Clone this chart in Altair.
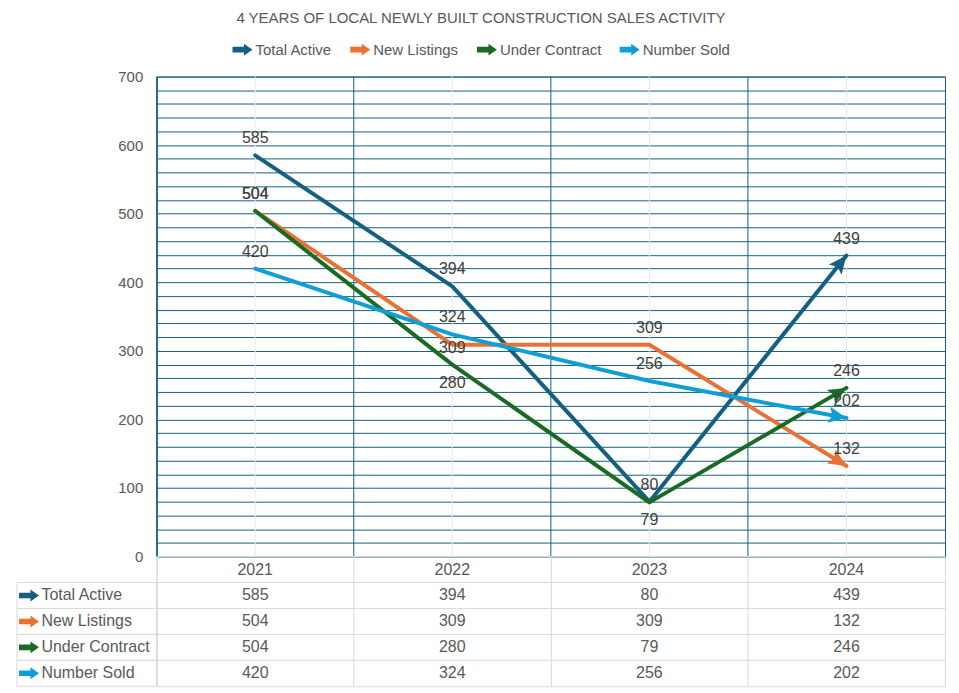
import math
import altair as alt
import pandas as pd

# ---------------- data ----------------
years = ["2021", "2022", "2023", "2024"]
series = ["Total Active", "New Listings", "Under Contract", "Number Sold"]
total_active = [585, 394, 80, 439]
new_listings = [504, 309, 309, 132]
under_contract = [504, 280, 79, 246]
number_sold = [420, 324, 256, 202]
colors = ["#156082", "#E97132", "#196B24", "#0F9ED5"]
# where each data label sits relative to its point
label_side = {
    "Total Active": ["above", "above", "above", "above"],
    "New Listings": ["above", "center", "above", "above"],
    "Under Contract": ["above", "below", "below", "above"],
    "Number Sold": ["above", "above", "above", "above"],
}
title_text = "4 YEARS OF LOCAL NEWLY BUILT CONSTRUCTION SALES ACTIVITY"

W, H = 790, 481
YMAX = 700
FONT = "Liberation Sans"
GRID_BLUE = "#156082"
TABLE_GRAY = "#d9d9d9"
TEXT_GRAY = "#595959"

values_by_series = {
    "Total Active": total_active,
    "New Listings": new_listings,
    "Under Contract": under_contract,
    "Number Sold": number_sold,
}

rows = []
for s in series:
    for i, y in enumerate(years):
        rows.append({"Series": s, "Year": y, "Value": values_by_series[s][i],
                     "Side": label_side[s][i]})
df = pd.DataFrame(rows)

# arrow head direction (last segment, in screen space)
ends = []
for s in series:
    v = values_by_series[s]
    dx = W / len(years)
    dy = -(v[-1] - v[-2]) * H / YMAX
    ang = math.degrees(math.atan2(dy, dx)) % 360
    ends.append({"Series": s, "Year": years[-1], "Value": v[-1], "angle": ang})
ends_df = pd.DataFrame(ends)

HEAD = "M0,0L-1,-0.45L-0.8,0L-1,0.45Z"
ARROW = "M-1,-0.28L0.15,-0.28L0.15,-0.6L1,0L0.15,0.6L0.15,0.28L-1,0.28Z"

color_scale = alt.Scale(domain=series, range=colors)
legend = alt.Legend(title=None, symbolType=ARROW, symbolSize=400,
                    symbolStrokeWidth=0, orient="none", direction="horizontal",
                    legendX=76, legendY=-37)
color_enc = alt.Color("Series:N", scale=color_scale, sort=series, legend=legend)
x_scale = alt.Scale(type="band", domain=years, paddingInner=0, paddingOuter=0)

x_top = alt.X("Year:N", scale=x_scale, axis=None)
y_top = alt.Y("Value:Q", scale=alt.Scale(domain=[0, YMAX], nice=False),
              axis=alt.Axis(values=list(range(0, YMAX + 1, 20)), tickCount=100,
                            labelExpr="datum.value % 100 == 0 ? datum.label : ''",
                            ticks=False, domainColor=GRID_BLUE, gridColor=GRID_BLUE,
                            gridWidth=1, labelFontSize=15, labelFont=FONT,
                            labelColor=TEXT_GRAY, labelPadding=14, title=None))

base = alt.Chart(df).encode(x=x_top, y=y_top)

year_df = pd.DataFrame({"Year": years})
centers = alt.Chart(year_df).mark_rule(color="#ebebeb", strokeWidth=1).encode(
    x=alt.X("Year:N", scale=x_scale, bandPosition=0.5, axis=None))
bounds = alt.Chart(year_df).mark_rule(color=GRID_BLUE, strokeWidth=1).encode(
    x=alt.X("Year:N", scale=x_scale, bandPosition=0, axis=None))

heads = alt.Chart(ends_df).mark_point(
    shape=HEAD, filled=True, opacity=1, size=1300, strokeWidth=0
).encode(
    x=x_top,
    y=y_top,
    color=color_enc,
    angle=alt.Angle("angle:Q", scale=None),
)

lines = base.mark_line(strokeWidth=4, strokeCap="round", strokeJoin="round").encode(
    color=color_enc,
    detail="Series:N",
)

def labels(side, dy):
    return base.transform_filter(alt.datum.Side == side).mark_text(
        font=FONT, fontSize=16, color="#404040", dy=dy, baseline="middle"
    ).encode(text="Value:Q")

top = alt.layer(
    centers, bounds, heads, lines,
    labels("above", -17), labels("below", 18), labels("center", 3),
).properties(width=W, height=H, view=alt.ViewBackground(stroke=GRID_BLUE))

# ---------------- data table ----------------
row_names = ["Year"] + series
trows = [{"Row": "Year", "Year": y, "Text": y} for y in years]
for s in series:
    for i, y in enumerate(years):
        trows.append({"Row": s, "Year": y, "Text": str(values_by_series[s][i])})
tdf = pd.DataFrame(trows)

y_scale_t = alt.Scale(type="band", domain=row_names, paddingInner=0, paddingOuter=0)
x_t = alt.X("Year:N", scale=x_scale,
            axis=alt.Axis(labels=False, ticks=False, domain=False, grid=True,
                          bandPosition=0, gridColor=TABLE_GRAY, title=None))
y_t = alt.Y("Row:N", scale=y_scale_t,
            axis=alt.Axis(labelExpr="datum.value == 'Year' ? '' : datum.label",
                          ticks=False, domain=False, grid=False, labelAlign="left",
                          labelPadding=116, labelFontSize=16, labelFont=FONT,
                          labelColor=TEXT_GRAY, title=None))

ttext = alt.Chart(tdf).mark_text(font=FONT, fontSize=16, color=TEXT_GRAY).encode(
    x=x_t, y=y_t, text="Text:N")

rdf = pd.DataFrame({"Row": row_names})
row_lines = alt.Chart(rdf).mark_rule(color=TABLE_GRAY, strokeWidth=1).encode(
    y=alt.Y("Row:N", scale=y_scale_t, bandPosition=0))

sdf = pd.DataFrame({"Row": series, "Series": series})
left_cells = alt.Chart(sdf).mark_rect(
    fillOpacity=0, stroke=TABLE_GRAY, strokeWidth=1
).encode(y=alt.Y("Row:N", scale=y_scale_t), x=alt.value(-140), x2=alt.value(0))

icons = alt.Chart(sdf).mark_point(
    shape=ARROW, filled=True, opacity=1, size=400, strokeWidth=0
).encode(
    y=alt.Y("Row:N", scale=y_scale_t),
    x=alt.value(-128),
    color=color_enc,
)

table = alt.layer(row_lines, left_cells, ttext, icons).properties(
    width=W, height=130, view=alt.ViewBackground(stroke=TABLE_GRAY))

chart = alt.vconcat(top, table, spacing=0, bounds="flush").properties(
    title=alt.TitleParams(title_text, font=FONT, fontSize=15, fontWeight="normal",
                          color=TEXT_GRAY, anchor="middle", offset=14),
    padding={"left": 8, "top": 2, "right": 5, "bottom": 2},
).configure_legend(
    labelFont=FONT, labelFontSize=15, labelColor=TEXT_GRAY, columnPadding=18,
    labelOffset=3,
).configure_view(stroke=None)

chart.save("out.html", embed_options={"renderer": "svg", "actions": False})
